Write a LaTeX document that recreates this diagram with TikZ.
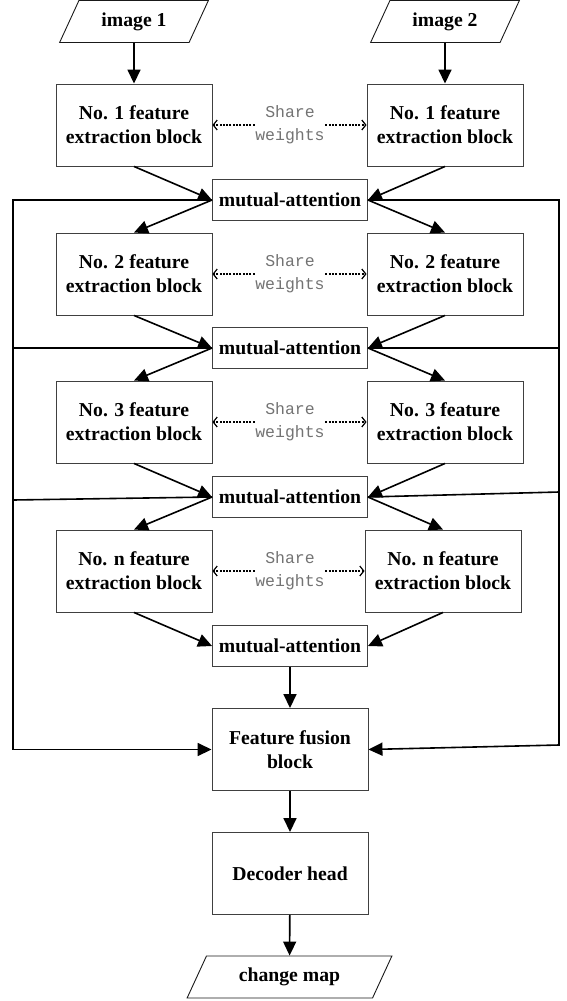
\documentclass[tikz,border=0pt]{standalone}
\usepackage{fontspec}
\setmainfont{Liberation Serif}
\newfontfamily\swfont{Liberation Mono}
\usetikzlibrary{shapes.geometric,arrows.meta}
\tikzstyle{fb}=[shape=rectangle,
                draw=black!75,
                line width=0.9pt,
                minimum height=82,
                minimum width=156,
                align=center,
                font=\fontsize{19.7}{24}\selectfont\bfseries]
\tikzstyle{ma}=[shape=rectangle,
                draw=black!75,
                line width=0.9pt,
                minimum height=41,
                minimum width=155,
                font=\fontsize{19.7}{24}\selectfont\bfseries]
\tikzstyle{io}=[trapezium,
                trapezium left angle=63,
                trapezium right angle=117,
                trapezium stretches=true,
                draw=black!90,
                line width=0.9pt,
                minimum height=42,
                minimum width=149,
                font=\fontsize{19.7}{24}\selectfont\bfseries]
\tikzstyle{sw}=[align=center,
                inner sep=0pt,
                text=black!55,
                font=\swfont\fontsize{16.5}{23}\selectfont]
\tikzstyle{swarrow}=[-{Straight Barb[length=4pt,width=10pt]},
                line width=1.2pt,
                dash pattern=on 2pt off 1.3pt]

\begin{document}
\begin{tikzpicture}[x=1pt,y=-1pt,>={Triangle[length=14pt,width=13pt]},line width=1.6pt]
\useasboundingbox (0,0) rectangle (566,1001);

\node[io] (im1) at (134,21.5) {image 1};
\node[io] (im2) at (445,21.5) {image 2};

\node[fb] (b1l) at (134,125) {No. 1 feature\\extraction block};
\node[fb] (b1r) at (445,125) {No. 1 feature\\extraction block};
\node[sw] (sw1) at (290,125) {Share\\weights};
\node[ma] (ma1) at (290,200) {mutual-attention};

\node[fb] (b2l) at (134,274) {No. 2 feature\\extraction block};
\node[fb] (b2r) at (445,274) {No. 2 feature\\extraction block};
\node[sw] (sw2) at (290,274) {Share\\weights};
\node[ma] (ma2) at (290,348) {mutual-attention};

\node[fb] (b3l) at (134,422) {No. 3 feature\\extraction block};
\node[fb] (b3r) at (445,422) {No. 3 feature\\extraction block};
\node[sw] (sw3) at (290,422) {Share\\weights};
\node[ma] (ma3) at (290,497) {mutual-attention};

\node[fb] (bnl) at (134,571) {No. n feature\\extraction block};
\node[fb] (bnr) at (443,571) {No. n feature\\extraction block};
\node[sw] (swn) at (290,571) {Share\\weights};
\node[ma] (man) at (290,646) {mutual-attention};

\node[fb] (ff) at (290,749.5) {Feature fusion\\block};
\node[fb] (dh) at (290,873.5) {Decoder head};
\node[io,minimum width=205] (cm) at (289.5,977) {change map};

% side lines
\coordinate (lt) at (13,200);
\coordinate (l3) at (13,500);
\coordinate (lb) at (13,749.5);
\coordinate (rt) at (559,200);
\coordinate (r3) at (559,492);
\coordinate (rb) at (559,745);

\path[->] (im1) edge (b1l)
          (im2) edge (b1r)

          (b1l.south) edge (ma1.west)
          (b1r.south) edge (ma1.east)
          (ma1.west) edge (b2l.north)
          (ma1.east) edge (b2r.north)

          (b2l.south) edge (ma2.west)
          (b2r.south) edge (ma2.east)
          (ma2.west) edge (b3l.north)
          (ma2.east) edge (b3r.north)

          (b3l.south) edge (ma3.west)
          (b3r.south) edge (ma3.east)
          (ma3.west) edge (bnl.north)
          (ma3.east) edge (bnr.north)

          (bnl.south) edge (man.west)
          (bnr.south) edge (man.east)

          (man) edge (ff)
          (ff) edge (dh)
          (dh) edge (cm);

\path[swarrow] (sw1) edge (b1l) (sw1) edge (b1r)
               (sw2) edge (b2l) (sw2) edge (b2r)
               (sw3) edge (b3l) (sw3) edge (b3r)
               (swn) edge (bnl) (swn) edge (bnr);

\draw[->] (ma1.west) -- (lt) -- (lb) -- (ff.west);
\draw[->] (ma1.east) -- (rt) -- (rb) -- (ff.east);
\draw (ma2.west) -- (ma2.west -| lt);
\draw (ma2.east) -- (ma2.east -| rt);
\draw (ma3.west) -- (l3);
\draw (ma3.east) -- (r3);
\end{tikzpicture}
\end{document}
